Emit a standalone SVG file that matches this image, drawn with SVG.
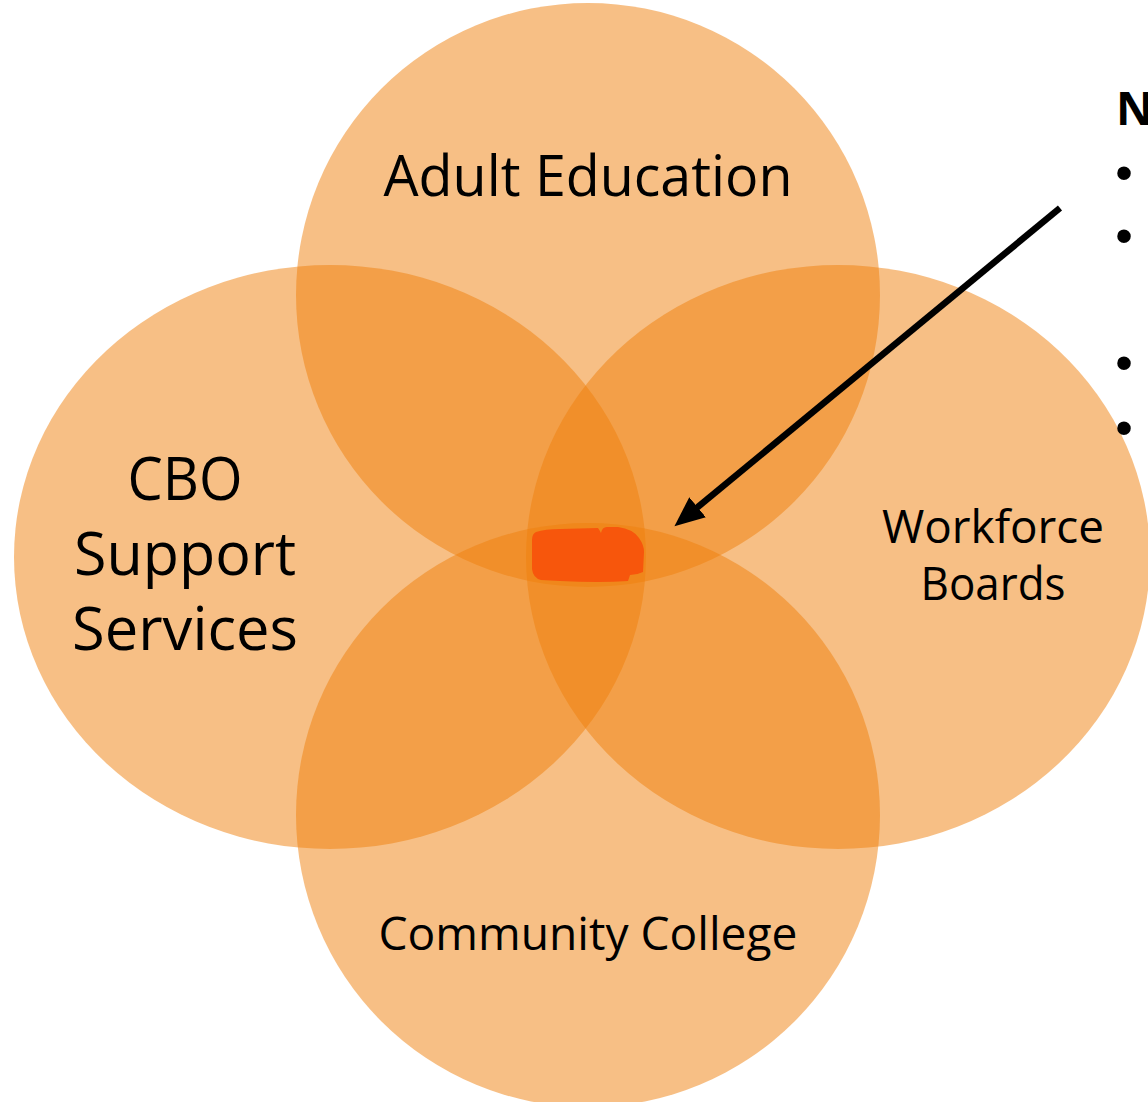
<svg xmlns="http://www.w3.org/2000/svg" width="1148" height="1102" viewBox="0 0 1148 1102">
  <defs>
    <style>
      .circ { fill: #EF7F0B; fill-opacity: 0.5; }
      .lbl { font-family: "Open Sans", "Noto Sans", "Liberation Sans", sans-serif; fill: #000; text-anchor: middle; }
      .side { font-family: "Open Sans", "Liberation Sans", sans-serif; fill: #000; }
      .bul { font-family: "Liberation Sans", Arial, sans-serif; fill: #000; text-anchor: middle; font-size: 50px; }
    </style>
    <marker id="arrowhead" markerUnits="userSpaceOnUse" markerWidth="32" markerHeight="26" refX="8" refY="13" orient="auto">
      <path d="M0,0 L30,13 L0,26 Z" fill="#000"/>
    </marker>
  </defs>
  <rect x="0" y="0" width="1148" height="1102" fill="#fff"/>

  <g id="node-adult-education">
    <circle class="circ" cx="588" cy="295" r="292"/>
  </g>
  <g id="node-cbo">
    <ellipse class="circ" cx="330" cy="557" rx="316" ry="292"/>
  </g>
  <g id="node-workforce">
    <ellipse class="circ" cx="838" cy="557" rx="312" ry="292"/>
  </g>
  <g id="node-community-college">
    <circle class="circ" cx="588" cy="815" r="292"/>
  </g>
  <g id="node-center">
    <path d="M536,532 Q545,529 560,529 L598,528 Q600,531 601,533 Q602,527 607,527 L618,527 Q633,529 639,538 Q644,545 644,552 L643,572 Q637,575 630,575 L628,581 Q600,583 560,581 L541,580 Q533,578 532,569 L532,540 Q532,534 536,532 Z" fill="#F7560C"/>
  </g>

  <g id="connectors">
    <line x1="1060" y1="208" x2="691.4" y2="512.3" stroke="#000" stroke-width="6.5" marker-end="url(#arrowhead)"/>
  </g>

  <g id="labels">
    <text class="lbl" x="588" y="196" font-size="57" textLength="409" lengthAdjust="spacingAndGlyphs">Adult Education</text>
    <text class="lbl" x="185" y="500" font-size="60" textLength="115" lengthAdjust="spacingAndGlyphs">CBO</text>
    <text class="lbl" x="185" y="575" font-size="60" textLength="222" lengthAdjust="spacingAndGlyphs">Support</text>
    <text class="lbl" x="185" y="650" font-size="60" textLength="226" lengthAdjust="spacingAndGlyphs">Services</text>
    <text class="lbl" x="993" y="543" font-size="46" textLength="222" lengthAdjust="spacingAndGlyphs">Workforce</text>
    <text class="lbl" x="993" y="600" font-size="46" textLength="145" lengthAdjust="spacingAndGlyphs">Boards</text>
    <text class="lbl" x="588" y="950" font-size="46" textLength="419" lengthAdjust="spacingAndGlyphs">Community College</text>
  </g>

  <g id="side-list">
    <text class="side" x="1116" y="125" font-size="46" font-weight="bold">N</text>
    <text class="bul" x="1124" y="190">•</text>
    <text class="bul" x="1124" y="253">•</text>
    <text class="bul" x="1124" y="380">•</text>
    <text class="bul" x="1124" y="445">•</text>
  </g>
</svg>
